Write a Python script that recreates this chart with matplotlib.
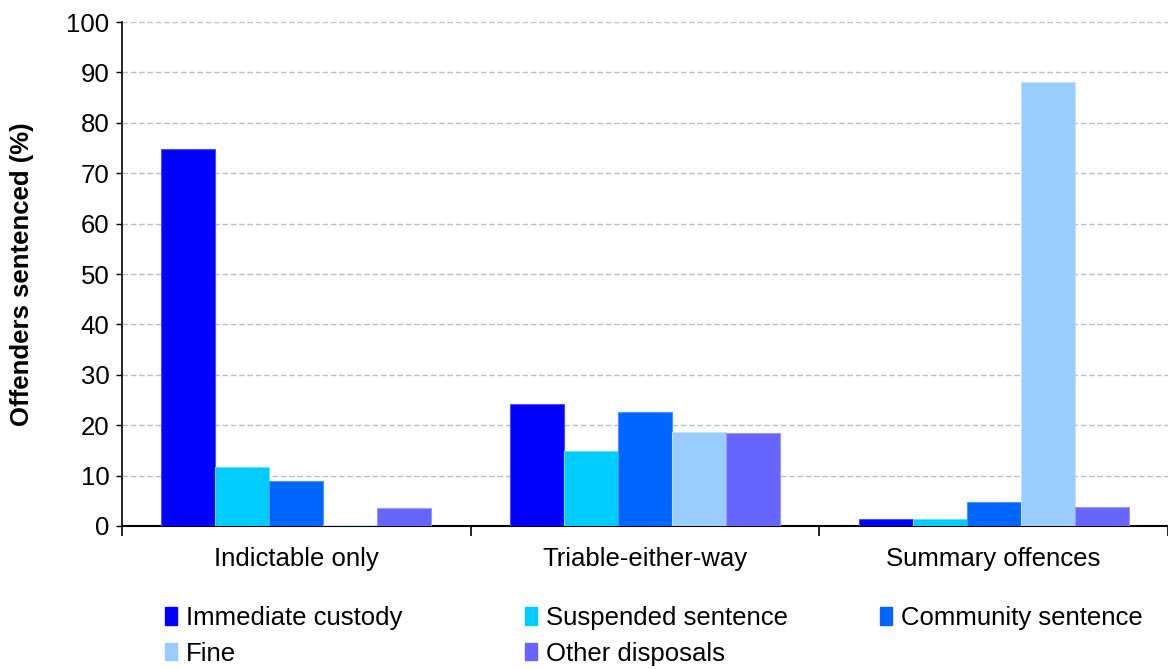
# Offenders sentenced by offence type - grouped bar chart
import numpy as np
import matplotlib
matplotlib.use('Agg')
import matplotlib.pyplot as plt
from matplotlib.patches import Patch

plt.rcParams['font.family'] = ['Liberation Sans', 'DejaVu Sans']

categories = ['Indictable only', 'Triable-either-way', 'Summary offences']
series = ['Immediate custody', 'Suspended sentence', 'Community sentence',
          'Fine', 'Other disposals']
immediate = [74.8, 24.3, 1.3]
suspended = [11.8, 14.9, 1.4]
community = [9.0, 22.7, 4.7]
fine = [0.1, 18.6, 88.2]
other = [3.5, 18.5, 3.8]
colors = ['#0000FF', '#00CCFF', '#0066FF', '#99CCFF', '#6666FF']
edges = ['#4D4DFF', '#66E0FF', '#4D94FF', '#C2E0FF', '#9999FF']

values = [immediate, suspended, community, fine, other]
FS = 18.5

fig = plt.figure(figsize=(11.68, 6.69), dpi=100)
ax = fig.add_axes([0.1045, 0.2138, 0.8955, 0.7532])

width = 0.155
x = np.arange(len(categories)) + 0.5
for i, vals in enumerate(values):
    ax.bar(x + (i - 2) * width, vals, width, color=colors[i],
           edgecolor=edges[i], linewidth=0.8, zorder=3)

ax.set_xlim(0, 3)
ax.set_ylim(0, 100)
ax.set_yticks(range(0, 101, 10))
ax.yaxis.grid(True, color='#C0C0C0', linestyle=(0, (4, 2)), linewidth=1.0, zorder=0)

# category ticks on boundaries, labels centred
ax.set_xticks([0, 1, 2, 3])
ax.set_xticklabels([])
ax.set_xticks(x, minor=True)
ax.set_xticklabels(categories, minor=True, fontsize=FS)
ax.tick_params(axis='x', which='minor', length=0, pad=15)
ax.tick_params(axis='x', which='major', length=7, width=1.2, direction='out')
ax.tick_params(axis='y', labelsize=FS, length=4, width=1.0, direction='out', pad=5)

for side in ['top', 'right']:
    ax.spines[side].set_visible(False)
ax.spines['left'].set_linewidth(1.2)
ax.spines['bottom'].set_linewidth(1.5)

ax.set_ylabel('Offenders sentenced (%)', fontsize=FS, fontweight='bold', labelpad=23)

# legend laid out as three columns, row by row: one legend per column
columns = [[0, 3], [1, 4], [2]]
col_x = [165, 525, 880]
for idx, px in zip(columns, col_x):
    handles = [Patch(facecolor=colors[i], edgecolor=colors[i]) for i in idx]
    labels = [series[i] for i in idx]
    fig.legend(handles, labels, loc='upper left', bbox_to_anchor=(px / 1168, 1 - 606 / 669),
               frameon=False, fontsize=FS, handlelength=0.45, handleheight=0.65,
               handletextpad=0.35, labelspacing=0.45, borderpad=0, borderaxespad=0)

plt.savefig('out.png', dpi=100)
